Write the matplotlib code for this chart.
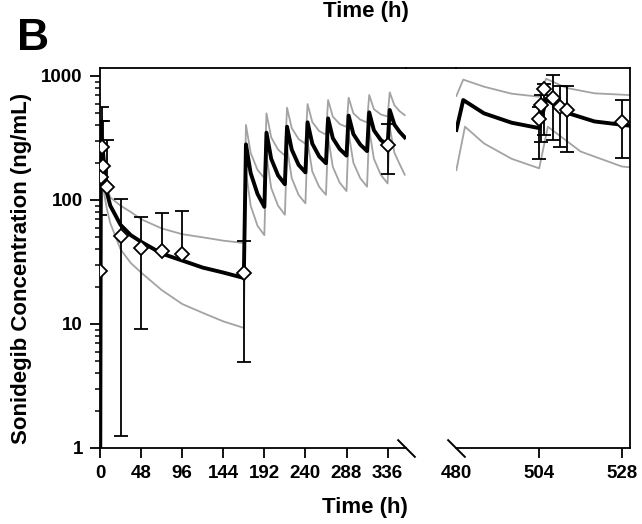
import numpy as np
import matplotlib.pyplot as plt
from matplotlib.lines import Line2D

plt.rcParams['font.family'] = ['Liberation Sans', 'DejaVu Sans']
plt.rcParams['font.weight'] = 'bold'
plt.rcParams['font.size'] = 14

# observed data (mean, upper and lower end of SD bar) - first segment
obs_t1 = [0.5, 1, 2, 4, 8, 24, 48, 72, 96, 168, 336]
obs_c1 = [27, 152, 269, 188, 128, 51.5, 41, 39, 37, 26, 280]
obs_hi1 = [75, 430, 566, 430, 305, 102, 73, 78, 82, 46.5, 408]
obs_lo1 = [27, 152, 269, 188, 128, 1.25, 9.1, 39, 37, 4.9, 161]

# observed data - second segment
obs_t2 = [504, 504.5, 505.5, 508, 510, 512, 528]
obs_c2 = [448, 583, 780, 670, 563, 532, 428]
obs_hi2 = [560, 700, 862, 1018, 830, 830, 635]
obs_lo2 = [214, 295, 334, 305, 266, 245, 219]

# simulated median and 5th / 95th percentiles - first segment
sim_t1 = [0, 1, 2.5, 5, 8, 12, 24, 36, 48, 72, 96, 120, 144, 168,
          170.5, 176, 184, 192,
          194.5, 200, 208, 216,
          218.5, 224, 232, 240,
          242.5, 248, 256, 264,
          266.5, 272, 280, 288,
          290.5, 296, 304, 312,
          314.5, 320, 328, 336,
          338.5, 344, 350, 356]
med_c1 = [0.1, 200, 300, 180, 115, 90, 63, 52, 46, 37, 32.5, 28.5, 26, 23.5,
          281, 165, 112, 88,
          349, 215, 158, 134,
          390, 255, 192, 167,
          423, 285, 225, 198,
          455, 315, 258, 228,
          479, 340, 280, 248,
          509, 365, 305, 277,
          532, 405, 355, 320]
p95_c1 = [0.1, 300, 450, 220, 125, 105, 90, 80, 70, 59, 53, 50, 47, 45,
          403, 240, 175, 150,
          500, 320, 255, 228,
          555, 380, 310, 284,
          594, 425, 360, 337,
          640, 470, 410, 388,
          668, 500, 445, 422,
          703, 540, 490, 471,
          738, 580, 520, 484]
p05_c1 = [0.1, 100, 160, 110, 85, 65, 40, 31, 26, 18.8, 14.5, 12.3, 10.5, 9.3,
          170, 90, 62, 52,
          230, 125, 90, 76,
          265, 150, 110, 94,
          295, 170, 128, 110,
          320, 185, 138, 118,
          345, 200, 150, 128,
          370, 215, 160, 136,
          385, 240, 195, 160]

# simulated - second segment
sim_t2 = [480, 482, 488, 496, 504, 506, 512, 520, 531]
med_c2 = [367, 640, 500, 420, 380, 650, 505, 430, 395]
p95_c2 = [690, 935, 820, 720, 680, 950, 800, 725, 700]
p05_t2 = [480, 482.5, 488, 496, 504, 506.5, 516, 528, 531]
p05_c2 = [174, 390, 286, 215, 180, 390, 246, 186, 183]

ticks1 = [0, 48, 96, 144, 192, 240, 288, 336]
ticks2 = [480, 504, 528]

fig = plt.figure(figsize=(6.42, 5.24), dpi=100)
W, H = 642, 524
bot, top = (H - 448) / H, (H - 68) / H
ax1 = fig.add_axes([99.5 / W, bot, (406 - 99.5) / W, top - bot])
ax2 = fig.add_axes([456 / W, bot, (630 - 456) / W, top - bot], sharey=ax1)

grey = '#a3a3a3'
for ax, t, med, p95, p05t, p05 in [(ax1, sim_t1, med_c1, p95_c1, sim_t1, p05_c1),
                                   (ax2, sim_t2, med_c2, p95_c2, p05_t2, p05_c2)]:
    ax.plot(t, p95, color=grey, lw=1.3, zorder=2)
    ax.plot(p05t, p05, color=grey, lw=1.3, zorder=2)
    ax.plot(t, med, color='black', lw=2.8, zorder=3)

for ax, t, c, hi, lo in [(ax1, obs_t1, obs_c1, obs_hi1, obs_lo1),
                         (ax2, obs_t2, obs_c2, obs_hi2, obs_lo2)]:
    c = np.array(c)
    err = [c - np.array(lo), np.array(hi) - c]
    ax.errorbar(t, c, yerr=err, fmt='D', ms=7.5, mfc='white', mec='black', mew=1.3,
                ecolor='black', elinewidth=1.3, capsize=5, capthick=1.3, zorder=4)

ax1.set_yscale('log')
ax1.set_ylim(1, 1160)
ax1.set_yticks([1, 10, 100, 1000])
ax1.set_yticklabels(['1', '10', '100', '1000'])
ax1.set_xlim(-0.6, 357.5)
ax2.set_xlim(479.9, 530.3)
ax1.set_xticks(ticks1)
ax2.set_xticks(ticks2)

for ax in (ax1, ax2):
    for s in ax.spines.values():
        s.set_linewidth(1.3)
    ax.tick_params(which='major', length=7, width=1.3, direction='out', labelsize=13.5, pad=5)
    ax.tick_params(which='minor', length=3.5, width=1.1, direction='out')
ax1.spines['right'].set_visible(False)
ax2.spines['left'].set_visible(False)
ax2.tick_params(axis='y', which='both', left=False, labelleft=False)
ax2.xaxis.get_major_ticks()[0].tick1line.set_visible(False)

# slashes at the break and the top line across the gap
slash = dict(marker=[(-1, 1), (1, -1)], markersize=13, linestyle='none',
             color='black', mec='black', mew=1.4, clip_on=False)
ax1.plot([1], [0], transform=ax1.transAxes, **slash)
ax2.plot([0], [0], transform=ax2.transAxes, **slash)
fig.add_artist(Line2D([406 / W, 456 / W], [top, top], color='black', lw=1.3))

fig.text(22 / W, (H - 268) / H, 'Sonidegib Concentration (ng/mL)', rotation=90,
         ha='center', va='center', fontsize=16, fontweight='bold')
fig.text(365 / W, (H - 508) / H, 'Time (h)', ha='center', va='center',
         fontsize=16, fontweight='bold')
# x label of the panel above, at the very top edge
fig.text(366 / W, 1 - 1 / H, 'Time (h)', ha='center', va='top',
         fontsize=16, fontweight='bold')
fig.text(17 / W, 1 - 50 / H, 'B', ha='left', va='baseline', fontsize=32, fontweight='bold')

plt.savefig('out.png', dpi=100)
